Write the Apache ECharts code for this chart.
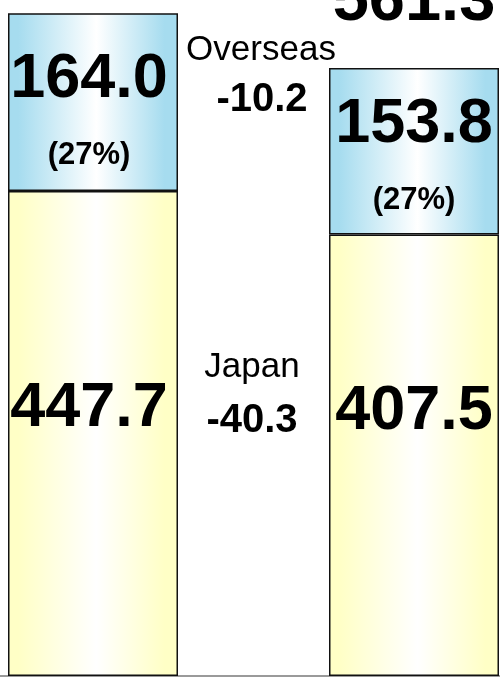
<!DOCTYPE html>
<html>
<head>
<meta charset="utf-8">
<style>
html,body{margin:0;padding:0;background:#fff;}
#c{width:500px;height:679px;}
</style>
<script src="https://cdn.jsdelivr.net/npm/echarts@6/dist/echarts.min.js"></script>
</head>
<body>
<div id="c"></div>
<script>
// ---- data ----
const categories = ['Previous', 'Current'];
const japan = [447.7, 407.5];
const overseas = [164.0, 153.8];
const totals = [611.7, 561.3];
const overseasShare = [27, 27];
const changeLabels = ['Overseas', 'Japan'];
const changes = [-10.2, -40.3];

const chart = echarts.init(document.getElementById('c'), null, {renderer: 'canvas'});
const FONT = '"Liberation Sans", Arial, sans-serif';

function grad(edge) {
  return {
    type: 'linear', x: 0, y: 0, x2: 1, y2: 0, global: false,
    colorStops: [
      {offset: 0, color: edge},
      {offset: 0.06, color: edge},
      {offset: 0.52, color: '#ffffff'},
      {offset: 0.92, color: edge},
      {offset: 1, color: edge}
    ]
  };
}

const japanOffsets = [[-4, -25], [0, -44]];
const overseasOffsets = [[-4, 13], [0, 9]];

const option = {
  animation: false,
  backgroundColor: '#ffffff',
  grid: {left: -67.5, right: -74.5, top: 0, bottom: 3, containLabel: false, outerBoundsMode: 'none'},
  xAxis: {
    type: 'category',
    data: categories,
    axisLine: {show: true, lineStyle: {color: '#9a9a9a', width: 2}},
    axisTick: {show: false},
    axisLabel: {show: false},
    splitLine: {show: false}
  },
  yAxis: {
    type: 'value',
    min: 0,
    max: 624,
    show: false,
    splitLine: {show: false}
  },
  series: [
    {
      name: 'Japan',
      type: 'bar',
      stack: 'total',
      barWidth: 170,
      data: japan.map((v, i) => ({
        value: v,
        itemStyle: {color: grad('#ffffc6')},
        label: {offset: japanOffsets[i]}
      })),
      itemStyle: {borderColor: '#111', borderWidth: 1.5},
      label: {
        show: true,
        position: 'inside',
        formatter: p => p.value.toFixed(1),
        fontFamily: FONT,
        fontWeight: 'bold',
        fontSize: 63,
        color: '#000'
      }
    },
    {
      name: 'Overseas',
      type: 'bar',
      stack: 'total',
      barWidth: 170,
      data: overseas.map((v, i) => ({
        value: v,
        itemStyle: {color: grad('#a6dcef')},
        label: {offset: overseasOffsets[i]}
      })),
      itemStyle: {borderColor: '#111', borderWidth: 1.5},
      label: {
        show: true,
        position: 'inside',
        formatter: p => '{a|' + p.value.toFixed(1) + '}\n{b|(' + overseasShare[p.dataIndex] + '%)}',
        rich: {
          a: {fontFamily: FONT, fontWeight: 'bold', fontSize: 63, lineHeight: 80, color: '#000'},
          b: {fontFamily: FONT, fontWeight: 'bold', fontSize: 31, lineHeight: 72, color: '#000'}
        }
      }
    },
    {
      name: 'Total',
      type: 'scatter',
      data: totals,
      symbolSize: 1,
      clip: false,
      itemStyle: {color: 'rgba(255,255,255,0)', opacity: 1},
      emphasis: {disabled: true},
      label: {
        show: true,
        position: 'top',
        distance: 33,
        opacity: 1,
        formatter: p => p.value.toFixed(1),
        fontFamily: FONT,
        fontWeight: 'bold',
        fontSize: 65,
        color: '#000000',
        textBorderWidth: 0
      },
      z: 5
    }
  ],
  graphic: [
    {type: 'text', x: 261, y: 50, style: {text: changeLabels[0], font: '35px ' + FONT, fill: '#000', textAlign: 'center', textVerticalAlign: 'middle'}},
    {type: 'text', x: 262, y: 100, style: {text: changes[0].toFixed(1), font: 'bold 40px ' + FONT, fill: '#000', textAlign: 'center', textVerticalAlign: 'middle'}},
    {type: 'text', x: 252, y: 367, style: {text: changeLabels[1], font: '35px ' + FONT, fill: '#000', textAlign: 'center', textVerticalAlign: 'middle'}},
    {type: 'text', x: 252, y: 421, style: {text: changes[1].toFixed(1), font: 'bold 40px ' + FONT, fill: '#000', textAlign: 'center', textVerticalAlign: 'middle'}}
  ]
};
chart.setOption(option);
</script>
</body>
</html>
